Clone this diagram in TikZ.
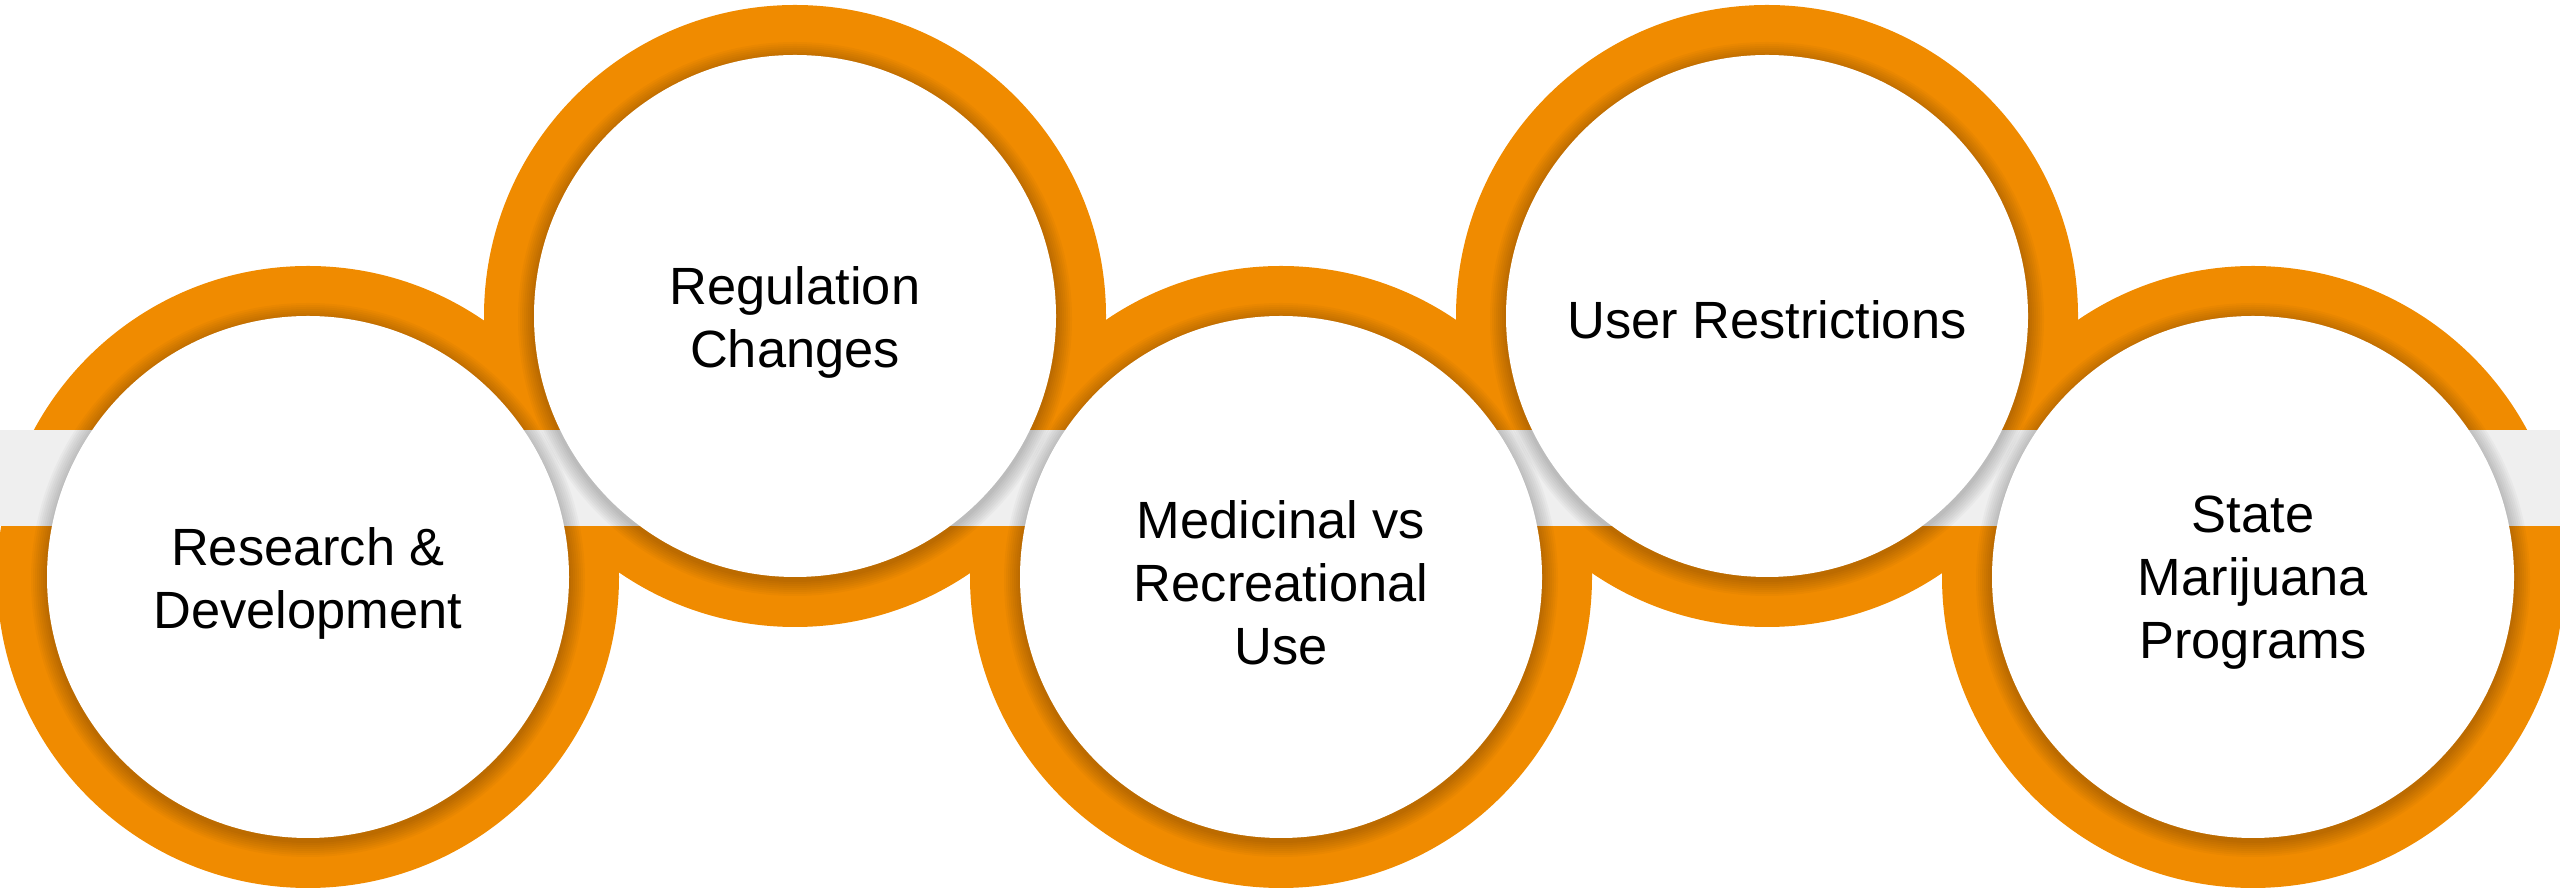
\documentclass[tikz,border=0pt]{standalone}
\usepackage{fontspec}
\setmainfont{Liberation Sans}
\definecolor{ringorange}{RGB}{240,139,0}
\definecolor{bandgray}{RGB}{239,239,239}
\begin{document}
\begin{tikzpicture}[x=0.01cm,y=-0.01cm,
  ctext/.style={align=center,font=\fontsize{14.9pt}{17.9pt}\selectfont,text=black,inner sep=0pt},
  ring/.style={fill=ringorange},
  disk/.style={fill=white},
  glow/.style={fill=black,opacity=0.028}]
\useasboundingbox (0,0) rectangle (2560,889);
\def\Ro{311}
\def\Ri{261}
% orange rings (full discs, interiors covered later)
\foreach \x/\y in {308/577,795/316,1281/577,1767/316,2253/577}
  \fill[ring] (\x,\y) circle[radius=\Ro];
% light band across the whole width
\fill[bandgray] (0,430) rectangle (2560,526);
% soft shadow around each white interior
\foreach \x/\y in {308/577,795/316,1281/577,1767/316,2253/577}{
  \foreach \k in {1,...,8}
    \fill[glow] (\x,\y+3) circle[radius=\Ri+2*\k];
}
% white interiors
\foreach \x/\y in {308/577,795/316,1281/577,1767/316,2253/577}
  \fill[disk] (\x,\y) circle[radius=\Ri];
% captions
\node[ctext] (c1) at (308,583) {Research \&\\Development};
\node[ctext] (c2) at (795,322) {Regulation\\Changes};
\node[ctext] (c3) at (1281,583) {Medicinal vs\\Recreational\\Use};
\node[ctext] (c4) at (1767,320) {User Restrictions};
\node[ctext] (c5) at (2253,583) {State\\Marijuana\\Programs};
\end{tikzpicture}
\end{document}
